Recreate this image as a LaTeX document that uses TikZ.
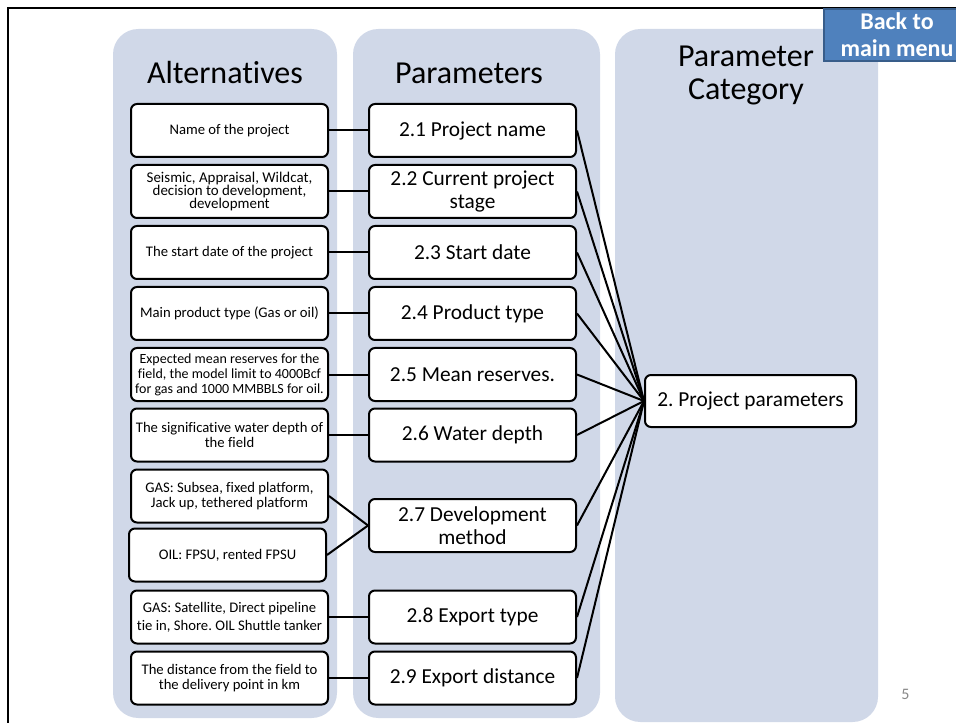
\documentclass[tikz,border=0pt]{standalone}
\usepackage{fontspec}
\setmainfont{Carlito}[Ligatures=NoCommon]
\frenchspacing
\definecolor{colfill}{RGB}{208,216,232}
\definecolor{btnfill}{RGB}{79,129,189}
\definecolor{btnline}{RGB}{56,93,138}
\definecolor{pagenum}{RGB}{137,137,137}
\begin{document}
\begin{tikzpicture}[x=0.75pt,y=-0.75pt,
  column/.style={fill=colfill,rounded corners=19pt},
  coltitle/.style={anchor=base,font=\fontsize{24}{25}\selectfont,align=center},
  altbox/.style={draw,line width=1.5pt,rounded corners=4.5pt,fill=white,
    minimum width=147.75pt,minimum height=39.75pt,inner sep=0pt,align=center,
    font=\fontsize{11}{11.5}\selectfont},
  parbox/.style={draw,line width=1.5pt,rounded corners=4.5pt,fill=white,
    minimum width=155.25pt,minimum height=39.75pt,inner sep=0pt,align=center,
    font=\fontsize{16}{17.5}\selectfont},
  link/.style={line width=1.5pt}]
\useasboundingbox (0,0) rectangle (956,723);
\fill[white] (0,0) rectangle (956,723);

% slide frame
\draw[line width=1.9pt] (8,740) -- (8,8) -- (970,8);

% three background columns
\fill[column] (113,29) rectangle (337,718);
\fill[column] (353,29) rectangle (600,718);
\fill[column] (615,29) rectangle (878,722);

\node[coltitle] (tAlt) at (225,84) {Alternatives};
\node[coltitle] (tPar) at (469,84) {Parameters};
\node[coltitle,font=\fontsize{24}{24.75}\selectfont] (tCat) at (746,100) {Parameter\\Category};

% alternatives
\node[altbox] (a1) at (229.5,130.5) {Name of the project};
\node[altbox,font=\fontsize{11.2}{10}\selectfont] (a2) at (229.5,191.5) {Seismic, Appraisal, Wildcat,\\decision to development,\\development};
\node[altbox] (a3) at (229.5,252.5) {The start date of the project};
\node[altbox] (a4) at (229.5,313.5) {Main product type (Gas or oil)};
\node[altbox,font=\fontsize{10.5}{11.25}\selectfont] (a5) at (229.5,374.5) {Expected mean reserves for the\\field, the model limit to 4000Bcf\\for gas and 1000 MMBBLS for oil.};
\node[altbox,font=\fontsize{11}{11.8}\selectfont] (a6) at (229.5,435) {The significative water depth of\\the field};
\node[altbox,font=\fontsize{11}{11.25}\selectfont] (a7) at (229.5,496) {GAS: Subsea, fixed platform,\\Jack up, tethered platform};
\node[altbox] (a8) at (227.5,555) {OIL: FPSU, rented FPSU};
\node[altbox,font=\fontsize{11}{13.5}\selectfont] (a9) at (229.5,617) {GAS: Satellite, Direct pipeline\\tie in, Shore. OIL Shuttle tanker};
\node[altbox,font=\fontsize{11}{11.25}\selectfont] (a10) at (229.5,678) {The distance from the field to\\the delivery point in km};

% parameters
\node[parbox] (p1) at (472.5,130.5) {2.1 Project name};
\node[parbox] (p2) at (472.5,191.5) {2.2 Current project\\stage};
\node[parbox] (p3) at (472.5,252.5) {2.3 Start date};
\node[parbox] (p4) at (472.5,313.5) {2.4 Product type};
\node[parbox] (p5) at (472.5,374.5) {2.5 Mean reserves.};
\node[parbox] (p6) at (472.5,435) {2.6 Water depth};
\node[parbox] (p7) at (472.5,525.5) {2.7 Development\\method};
\node[parbox] (p8) at (472.5,617) {2.8 Export type};
\node[parbox] (p9) at (472.5,678) {2.9 Export distance};

% parameter category
\node[parbox,minimum width=158.25pt,minimum height=39pt] (pp) at (750.5,401) {2. Project parameters};

% alternatives -> parameters
\draw[link] (a1.east) -- (p1.west);
\draw[link] (a2.east) -- (p2.west);
\draw[link] (a3.east) -- (p3.west);
\draw[link] (a4.east) -- (p4.west);
\draw[link] (a5.east) -- (p5.west);
\draw[link] (a6.east) -- (p6.west);
\draw[link] (a7.east) -- (p7.west);
\draw[link] (a8.east) -- (p7.west);
\draw[link] (a9.east) -- (p8.west);
\draw[link] (a10.east) -- (p9.west);

% parameters -> category
\foreach \p in {p1,p2,p3,p4,p5,p6,p7,p8,p9}
  \draw[link] (\p.east) -- (pp.west);

% navigation button
\node[draw=btnline,line width=1.2pt,fill=btnfill,text=white,
  minimum width=109.5pt,minimum height=39pt,inner sep=0pt,align=center,
  font=\bfseries\fontsize{18}{20.5}\selectfont] (back) at (897,35) {Back to\\main menu};

% slide number
\node[text=pagenum,font=\fontsize{12}{14}\selectfont] (pg) at (905.5,694) {5};
\end{tikzpicture}
\end{document}
